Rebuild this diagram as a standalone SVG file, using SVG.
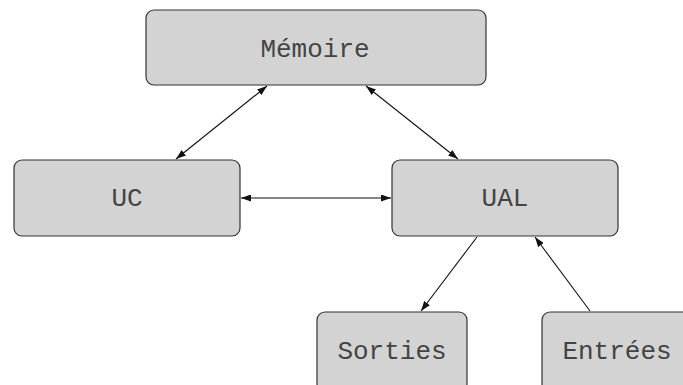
<svg xmlns="http://www.w3.org/2000/svg" width="683" height="385" viewBox="0 0 683 385">
  <style>
    .box { fill: #d3d3d3; stroke: #333; stroke-width: 1.2; }
    .lbl { font-family: "Courier New", "Nimbus Mono PS", "FreeMono", Courier, "Liberation Mono", monospace; font-size: 26px; fill: #444; text-anchor: middle; }
    .edge { stroke: #111; stroke-width: 1.1; fill: none; }
  </style>
  <defs>
    <marker id="arrow" viewBox="0 0 10 7" refX="10" refY="3.5" markerWidth="10" markerHeight="7" markerUnits="userSpaceOnUse" orient="auto-start-reverse">
      <path d="M0,0 L10,3.5 L0,7 Z" fill="#111"/>
    </marker>
  </defs>

  <g id="memoire">
    <rect class="box" x="146" y="10" width="340" height="75" rx="8"/>
    <text class="lbl" x="315" y="57">Mémoire</text>
  </g>
  <g id="uc">
    <rect class="box" x="14" y="160" width="226" height="76" rx="8"/>
    <text class="lbl" x="127" y="206">UC</text>
  </g>
  <g id="ual">
    <rect class="box" x="392" y="160" width="226" height="76" rx="8"/>
    <text class="lbl" x="505" y="206">UAL</text>
  </g>
  <g id="sorties">
    <rect class="box" x="317" y="312" width="150" height="80" rx="8"/>
    <text class="lbl" x="392" y="359">Sorties</text>
  </g>
  <g id="entrees">
    <rect class="box" x="542" y="312" width="160" height="80" rx="8"/>
    <text class="lbl" x="617" y="359">Entrées</text>
  </g>

  <g id="connectors">
    <line class="edge" x1="267" y1="86" x2="176" y2="159" marker-start="url(#arrow)" marker-end="url(#arrow)"/>
    <line class="edge" x1="366" y1="86" x2="458" y2="159" marker-start="url(#arrow)" marker-end="url(#arrow)"/>
    <line class="edge" x1="241" y1="198" x2="391" y2="198" marker-start="url(#arrow)" marker-end="url(#arrow)"/>
    <line class="edge" x1="477" y1="237" x2="421" y2="311" marker-end="url(#arrow)"/>
    <line class="edge" x1="590" y1="311" x2="535" y2="237" marker-end="url(#arrow)"/>
  </g>
</svg>
